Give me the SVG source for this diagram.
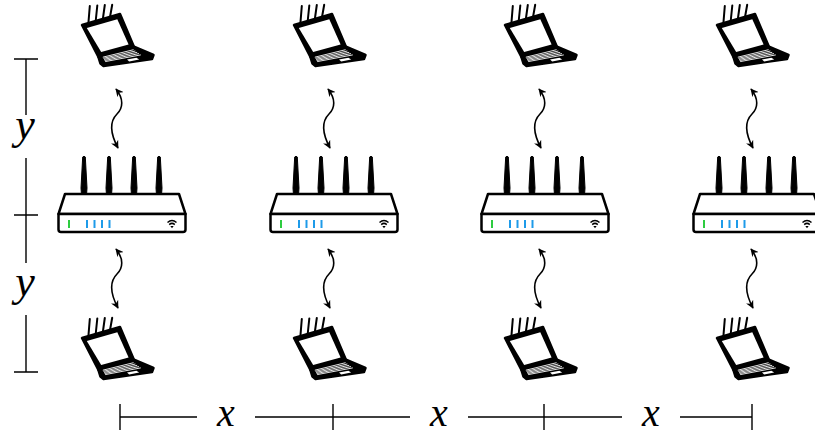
<svg xmlns="http://www.w3.org/2000/svg" xmlns:xlink="http://www.w3.org/1999/xlink" width="815" height="436" viewBox="0 0 815 436">
  <style>
    .frame { fill: #fff; stroke: #000; stroke-width: 2.5; stroke-linejoin: round; }
    .ink { fill: #000; stroke: #000; stroke-width: 1; stroke-linejoin: round; }
    .lid { fill: #000; stroke: #000; stroke-width: 2.5; stroke-linejoin: round; }
    .keys { stroke: #fff; stroke-width: 0.9; fill: none; }
    .mast { stroke: #000; stroke-width: 2; stroke-linecap: round; fill: none; }
    .led-g { stroke: #2ecc40; stroke-width: 2; }
    .led-b { stroke: #1e9be9; stroke-width: 2; }
    .link { fill: none; stroke: #000; stroke-width: 1.6; marker-start: url(#tip); marker-end: url(#tip); }
    .dim { stroke: #000; stroke-width: 1.4; fill: none; }
    .lbl { font-family: "Liberation Serif", "DejaVu Serif", serif; font-style: italic; text-anchor: middle; fill: #000; }
  </style>
  <defs>
    <marker id="tip" viewBox="0 0 10 10" refX="9" refY="5" markerWidth="8" markerHeight="8" markerUnits="userSpaceOnUse" orient="auto-start-reverse">
      <path d="M0,0 L10,5 L0,10 L3,5 Z" fill="#000"/>
    </marker>
    <!-- laptop with four antennas on the lid -->
    <g id="laptop">
      <line class="mast" x1="88.5" y1="22" x2="89.8" y2="6"/>
      <line class="mast" x1="95.8" y1="20" x2="97.3" y2="5.5"/>
      <line class="mast" x1="103" y1="18" x2="104.8" y2="5"/>
      <line class="mast" x1="110.2" y1="16" x2="112.2" y2="4.8"/>
      <polygon class="lid" points="82,25 120,14 134,47 98.3,56.7"/>
      <polygon points="86.8,28 117.3,19.3 128.6,44.5 101.2,52" fill="#fff"/>
      <polygon class="lid" stroke-width="2" points="98.3,56.7 134,46.7 153.5,55 152,59 103.5,66 100.5,63.5"/>
      <path class="keys" d="M102.8,57.2 L133.6,49.7 M103.4,58.3 L135.4,51 M104,59.4 L137.2,52.3 M104.6,60.5 L139,53.6 M105.2,61.6 L140.8,54.9"/>
      <polygon points="127,59.4 136.4,57.7 139.2,59.6 129.2,61.4" fill="#fff"/>
    </g>
    <!-- router with four antennas and status LEDs -->
    <g id="router">
      <path class="ink" d="M82.7,157 Q84,155.5 85.3,157 L87,188 L86.5,195 L81.5,195 L81,188 Z"/>
      <path class="ink" d="M107.7,157 Q109,155.5 110.3,157 L112,188 L111.5,195 L106.5,195 L106,188 Z"/>
      <path class="ink" d="M132.7,157 Q134,155.5 135.3,157 L137,188 L136.5,195 L131.5,195 L131,188 Z"/>
      <path class="ink" d="M157.7,157 Q159,155.5 160.3,157 L162,188 L161.5,195 L156.5,195 L156,188 Z"/>
      <path class="frame" d="M65,194 L179,194 L185.5,214 L58.5,214 Z"/>
      <path class="frame" d="M58.5,214 L185.5,214 L185.5,229.5 Q185.5,232 183,232 L61,232 Q58.5,232 58.5,229.5 Z"/>
      <line class="led-g" x1="69" y1="220" x2="69" y2="228"/>
      <line class="led-b" x1="87" y1="220" x2="87" y2="228"/>
      <line class="led-b" x1="94.5" y1="220" x2="94.5" y2="228"/>
      <line class="led-b" x1="102" y1="220" x2="102" y2="228"/>
      <line class="led-b" x1="109.5" y1="220" x2="109.5" y2="228"/>
      <path d="M167.5,222.5 Q172,218.5 176.5,222.5 M169.2,224.6 Q172,222.2 174.8,224.6" fill="none" stroke="#000" stroke-width="1.5"/>
      <path d="M170.3,226 L173.7,226 L172,228.3 Z" fill="#000"/>
    </g>
  </defs>

  <!-- access points -->
  <g id="router-1"><use xlink:href="#router" href="#router"/></g>
  <g id="router-2"><use xlink:href="#router" href="#router" transform="translate(212,0)"/></g>
  <g id="router-3"><use xlink:href="#router" href="#router" transform="translate(423,0)"/></g>
  <g id="router-4"><use xlink:href="#router" href="#router" transform="translate(635,0)"/></g>

  <!-- clients, upper row -->
  <g id="laptop-top-1"><use xlink:href="#laptop" href="#laptop"/></g>
  <g id="laptop-top-2"><use xlink:href="#laptop" href="#laptop" transform="translate(212,0)"/></g>
  <g id="laptop-top-3"><use xlink:href="#laptop" href="#laptop" transform="translate(423,0)"/></g>
  <g id="laptop-top-4"><use xlink:href="#laptop" href="#laptop" transform="translate(635,0)"/></g>

  <!-- clients, lower row -->
  <g id="laptop-bottom-1"><use xlink:href="#laptop" href="#laptop" transform="translate(0,313)"/></g>
  <g id="laptop-bottom-2"><use xlink:href="#laptop" href="#laptop" transform="translate(212,313)"/></g>
  <g id="laptop-bottom-3"><use xlink:href="#laptop" href="#laptop" transform="translate(423,313)"/></g>
  <g id="laptop-bottom-4"><use xlink:href="#laptop" href="#laptop" transform="translate(635,313)"/></g>

  <!-- wireless links -->
  <g id="links">
    <path class="link" d="M116,89 C124,99 123,108 117,114 C110,121 110,133 118,148"/>
    <path class="link" d="M116,249 C124,259 123,268 117,274 C110,281 110,293 118,308"/>
    <path class="link" transform="translate(212,0)" d="M116,89 C124,99 123,108 117,114 C110,121 110,133 118,148"/>
    <path class="link" transform="translate(212,0)" d="M116,249 C124,259 123,268 117,274 C110,281 110,293 118,308"/>
    <path class="link" transform="translate(423,0)" d="M116,89 C124,99 123,108 117,114 C110,121 110,133 118,148"/>
    <path class="link" transform="translate(423,0)" d="M116,249 C124,259 123,268 117,274 C110,281 110,293 118,308"/>
    <path class="link" transform="translate(635,0)" d="M116,89 C124,99 123,108 117,114 C110,121 110,133 118,148"/>
    <path class="link" transform="translate(635,0)" d="M116,249 C124,259 123,268 117,274 C110,281 110,293 118,308"/>
  </g>

  <!-- spacing dimensions -->
  <g id="dimensions">
    <path class="dim" d="M26,59 V115 M26,158 V263 M26,315 V372 M14,59 H38 M14,215 H38 M14,372 H38"/>
    <text class="lbl" font-size="44" x="25" y="139">y</text>
    <text class="lbl" font-size="44" x="25" y="296">y</text>
    <path class="dim" d="M120,417 H197 M255,417 H410 M468,417 H622 M680,417 H752 M120,404 V430 M333,404 V430 M544,404 V430 M752,404 V430"/>
    <text class="lbl" font-size="40" x="226" y="426">x</text>
    <text class="lbl" font-size="40" x="439" y="426">x</text>
    <text class="lbl" font-size="40" x="651" y="426">x</text>
  </g>
</svg>
